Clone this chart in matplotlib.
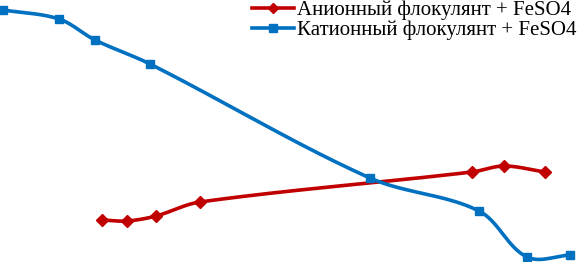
import numpy as np
import matplotlib.pyplot as plt

# values (arbitrary units, no axes shown)
x_anion = [102, 127, 156, 200, 472, 504, 545]
y_anion = [42, 41, 46, 60, 90, 96, 90]
x_cation = [3, 59, 95, 150, 370, 479, 527, 570]
y_cation = [252, 243, 222, 198, 84, 51, 5, 7]
labels = ['Анионный флокулянт + FeSO4', 'Катионный флокулянт + FeSO4']

RED = '#C00000'
BLUE = '#0070C0'


def smooth(x, y, n=40):
    # smoothed line through the points, tangents scaled to segment length
    p = np.column_stack([x, y]).astype(float)
    tan = np.zeros_like(p)
    tan[0] = p[1] - p[0]
    tan[-1] = p[-1] - p[-2]
    tan[1:-1] = p[2:] - p[:-2]
    tan /= np.linalg.norm(tan, axis=1)[:, None]
    t = np.linspace(0, 1, n)[:, None]
    out = []
    for i in range(len(p) - 1):
        L = np.linalg.norm(p[i + 1] - p[i])
        c1 = p[i] + tan[i] * L / 3
        c2 = p[i + 1] - tan[i + 1] * L / 3
        seg = ((1 - t) ** 3) * p[i] + 3 * ((1 - t) ** 2) * t * c1 + 3 * (1 - t) * t ** 2 * c2 + t ** 3 * p[i + 1]
        out.append(seg)
    out = np.vstack(out)
    return out[:, 0], out[:, 1]


fig = plt.figure(figsize=(5.79, 2.62), dpi=100)
ax = fig.add_axes([0, 0, 1, 1])
ax.set_xlim(0, 579)
ax.set_ylim(0, 262)
ax.axis('off')

sx, sy = smooth(x_anion, y_anion)
ax.plot(sx, sy, color=RED, lw=2.6, solid_capstyle='butt')
ax.plot(x_anion, y_anion, ls='none', marker='D', ms=6.5, color=RED)

sx, sy = smooth(x_cation, y_cation)
ax.plot(sx, sy, color=BLUE, lw=2.6, solid_capstyle='butt')
ax.plot(x_cation, y_cation, ls='none', marker='s', ms=6, color=BLUE)

h1 = plt.Line2D([], [], color=RED, lw=2.6, marker='D', ms=5.5)
h2 = plt.Line2D([], [], color=BLUE, lw=2.6, marker='s', ms=5.5)
ax.legend([h1, h2], labels, loc='upper right', bbox_to_anchor=(1.021, 1.053),
          frameon=False, prop={'family': 'Liberation Serif', 'size': 15},
          handlelength=2.0, handletextpad=0.15, labelspacing=0.0, borderpad=0.2)

fig.savefig('out.png', dpi=100)
